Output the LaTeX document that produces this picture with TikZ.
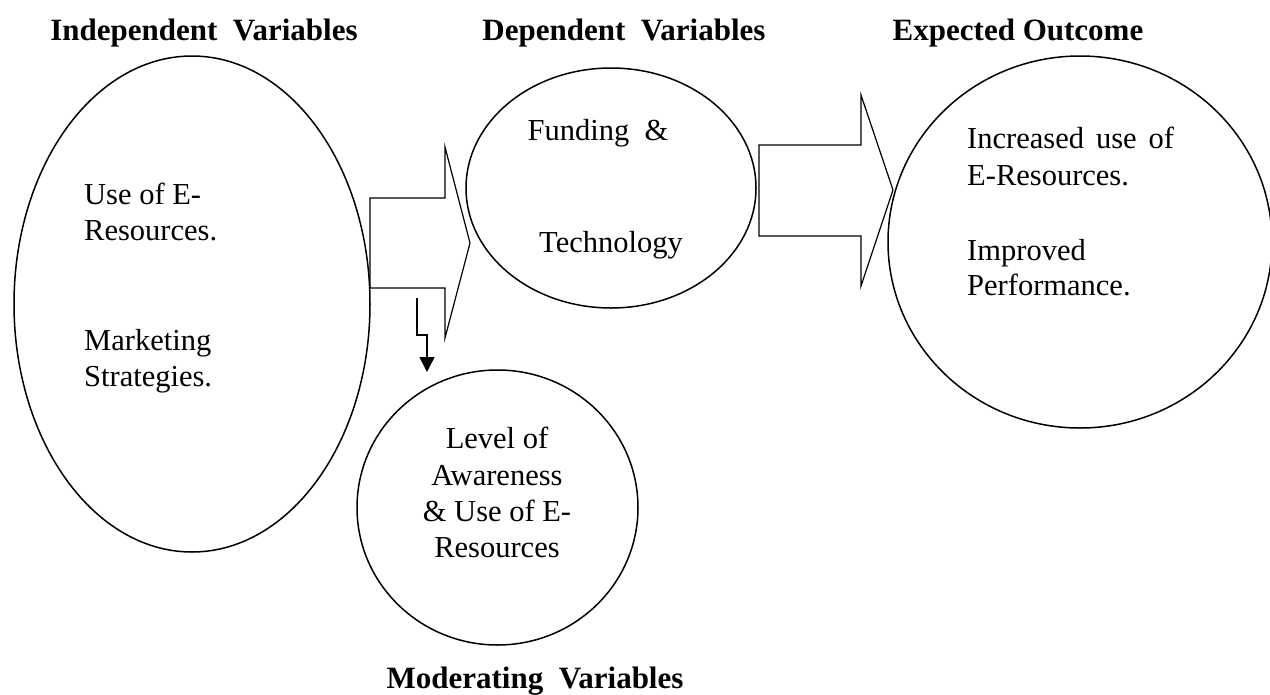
\documentclass[tikz,border=0pt]{standalone}
\usepackage{fontspec}
\setmainfont{Liberation Serif}
\usetikzlibrary{shapes.geometric,arrows.meta}
\begin{document}
\begin{tikzpicture}[x=1pt,y=-1pt,
  bubble/.style={draw,line width=1.5pt,ellipse,inner sep=0pt},
  body/.style={font=\fontsize{30.5}{36}\selectfont,inner sep=0pt},
  heading/.style={font=\fontsize{31}{37}\selectfont\bfseries,inner sep=0pt,anchor=base},
  blockarrow/.style={draw,line width=1.2pt,line join=miter},
  bolt/.style={line width=1.5pt,-{Triangle[width=15pt,length=15pt]}}
]
\useasboundingbox (0,0) rectangle (1270,694);

% headings
\node[heading] (hIndep) at (204,40) {Independent\ \ Variables};
\node[heading] (hDep) at (624,40) {Dependent\ \ Variables};
\node[heading] (hOut) at (1018,40) {Expected\ Outcome};
\node[heading] (hMod) at (535,688) {Moderating\ \ Variables};

% the four variable groups
\node[bubble,minimum width=356pt,minimum height=496pt] (indep) at (192,304) {};
\node[bubble,minimum width=290pt,minimum height=240pt] (dep) at (611,188) {};
\node[bubble,minimum width=384pt,minimum height=372pt] (outcome) at (1080,242) {};
\node[bubble,minimum width=281pt,minimum height=275pt] (moder) at (497.5,507.5) {};

% independent variables
\node[body,anchor=base west] (i1) at (84,204) {Use of E-};
\node[body,anchor=base west] (i2) at (84,240) {Resources.};
\node[body,anchor=base west] (i3) at (84,350) {Marketing};
\node[body,anchor=base west] (i4) at (84,386) {Strategies.};

% dependent variables
\node[body,anchor=base] (d1) at (598,140) {Funding\ \ \&};
\node[body,anchor=base] (d2) at (611,252) {Technology};

% expected outcome
\node[body,anchor=base west] (o1) at (967,148) {Increased\hspace{12pt}use\hspace{12pt}of};
\node[body,anchor=base west] (o2) at (967,185) {E-Resources.};
\node[body,anchor=base west] (o3) at (967,260) {Improved};
\node[body,anchor=base west] (o4) at (967,295) {Performance.};

% moderating variables
\node[body,anchor=base] (m1) at (497,448) {Level of};
\node[body,anchor=base] (m2) at (497,485) {Awareness};
\node[body,anchor=base] (m3) at (497,521) {\& Use of E-};
\node[body,anchor=base] (m4) at (497,557) {Resources};

% block arrows between the groups
\draw[blockarrow] (370,198) -- (445,198) -- (445,147) -- (470,243)
  -- (445,338) -- (445,288) -- (370,288) -- cycle;
\draw[blockarrow] (759,145) -- (861,145) -- (861,95) -- (893,190)
  -- (861,286) -- (861,236) -- (759,236) -- cycle;

% bolt arrow towards the moderating variables
\coordinate (boltStart) at (417,298);
\coordinate (boltEnd) at (427,372);
\draw[bolt] (boltStart) -- (417,335) -- (427,335) -- (boltEnd);
\end{tikzpicture}
\end{document}
